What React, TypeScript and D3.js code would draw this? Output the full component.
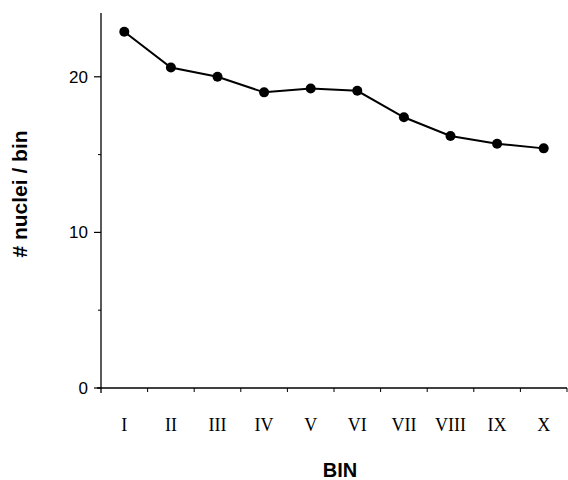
import React, { useEffect, useRef } from "react";
import * as d3 from "d3";

// bins along the x axis
const bins = ["I", "II", "III", "IV", "V", "VI", "VII", "VIII", "IX", "X"];
// nuclei per bin
const nuclei = [22.9, 20.6, 20.0, 19.0, 19.25, 19.1, 17.4, 16.2, 15.7, 15.4];
const majorTicks = [0, 10, 20];
const minorTicks = [5, 15];

export default function App() {
  const ref = useRef<SVGSVGElement>(null);

  useEffect(() => {
    const svg = d3.select(ref.current);
    svg.selectAll("*").remove();

    const left = 101, right = 567, top = 13, bottom = 388;

    const x = d3.scaleBand().domain(bins).range([left, right]);
    const y = d3.scaleLinear().domain([0, 24.1]).range([bottom, top]);

    const g = svg.append("g");

    // y axis
    g.append("line")
      .attr("x1", left).attr("x2", left)
      .attr("y1", top).attr("y2", bottom + 5)
      .attr("stroke", "#000").attr("stroke-width", 1.3);
    g.selectAll(".ymaj").data(majorTicks).enter().append("line")
      .attr("x1", left - 7).attr("x2", left)
      .attr("y1", d => y(d)).attr("y2", d => y(d))
      .attr("stroke", "#000").attr("stroke-width", 1.2);
    g.selectAll(".ymin").data(minorTicks).enter().append("line")
      .attr("x1", left - 3).attr("x2", left)
      .attr("y1", d => y(d)).attr("y2", d => y(d))
      .attr("stroke", "#000").attr("stroke-width", 1);
    g.selectAll(".ylab").data(majorTicks).enter().append("text")
      .attr("x", left - 13).attr("y", d => y(d))
      .attr("dy", "0.35em")
      .attr("text-anchor", "end")
      .attr("font-family", "Liberation Sans, Arial, sans-serif")
      .attr("font-size", 17)
      .text(d => d);

    // x axis
    g.append("line")
      .attr("x1", left - 4).attr("x2", right)
      .attr("y1", bottom).attr("y2", bottom)
      .attr("stroke", "#000").attr("stroke-width", 1.3);
    const edges = bins.map(b => x(b) as number).concat([right]);
    g.selectAll(".xt").data(edges.slice(1)).enter().append("line")
      .attr("x1", d => d).attr("x2", d => d)
      .attr("y1", bottom).attr("y2", bottom + 4)
      .attr("stroke", "#000").attr("stroke-width", 1);
    g.selectAll(".xlab").data(bins).enter().append("text")
      .attr("x", d => (x(d) as number) + x.bandwidth() / 2)
      .attr("y", bottom + 43)
      .attr("text-anchor", "middle")
      .attr("font-family", "Liberation Serif, Times New Roman, serif")
      .attr("font-size", 18)
      .text(d => d);

    // axis titles
    svg.append("text")
      .attr("x", 340).attr("y", 477)
      .attr("text-anchor", "middle")
      .attr("font-family", "Liberation Sans, Arial, sans-serif")
      .attr("font-weight", "bold")
      .attr("font-size", 20)
      .text("BIN");
    svg.append("text")
      .attr("transform", "translate(27,194) rotate(-90)")
      .attr("text-anchor", "middle")
      .attr("font-family", "Liberation Sans, Arial, sans-serif")
      .attr("font-weight", "bold")
      .attr("font-size", 21)
      .text("# nuclei / bin");

    // line + points
    const cx = (d: string) => (x(d) as number) + x.bandwidth() / 2;
    const line = d3.line<number>()
      .x((d, i) => cx(bins[i]))
      .y(d => y(d));
    g.append("path")
      .datum(nuclei)
      .attr("d", line)
      .attr("fill", "none")
      .attr("stroke", "#000")
      .attr("stroke-width", 2);
    g.selectAll(".pt").data(nuclei).enter().append("circle")
      .attr("cx", (d, i) => cx(bins[i]))
      .attr("cy", d => y(d))
      .attr("r", 5)
      .attr("fill", "#000");
  }, []);

  return (
    <svg
      ref={ref}
      width={568}
      height={480}
      style={{ position: "absolute", left: 0, top: 0, background: "#fff" }}
    />
  );
}
